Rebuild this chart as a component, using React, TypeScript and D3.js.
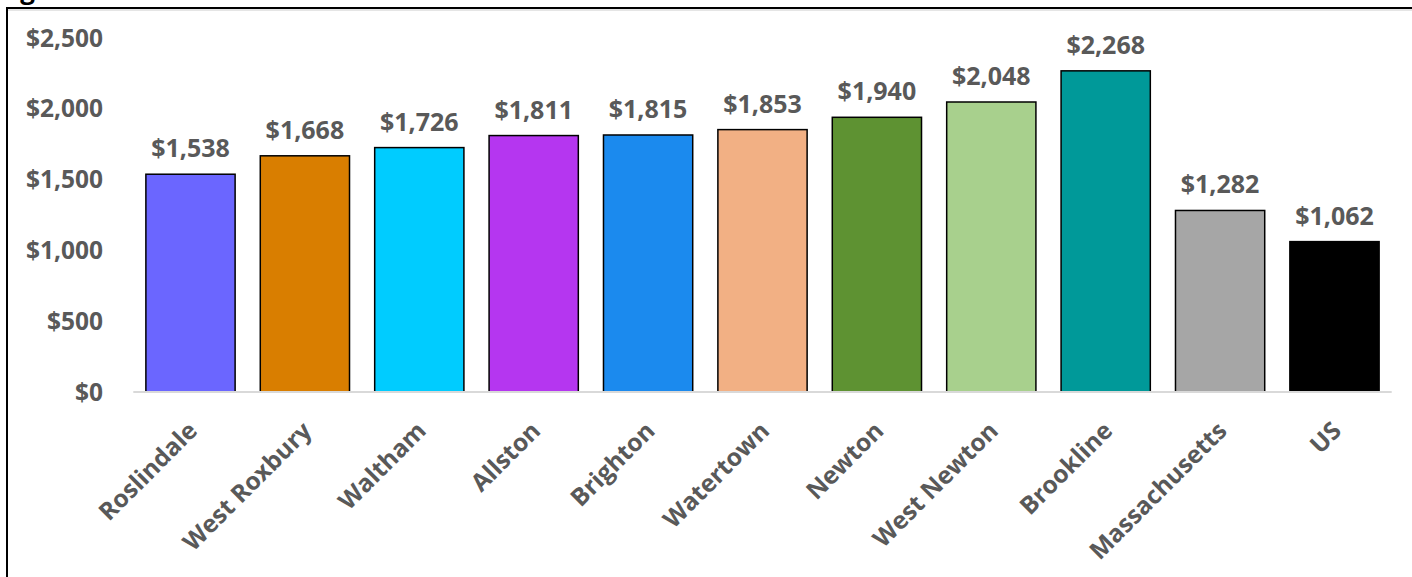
import React from "react";
import * as d3 from "d3";

const categories = ["Roslindale", "West Roxbury", "Waltham", "Allston", "Brighton", "Watertown", "Newton", "West Newton", "Brookline", "Massachusetts", "US"];
const values = [1538, 1668, 1726, 1811, 1815, 1853, 1940, 2048, 2268, 1282, 1062];
const colors = ["#6B66FF", "#D97E00", "#00CCFF", "#B536F0", "#1B8AEE", "#F2B084", "#5E9232", "#A8D08D", "#009999", "#A6A6A6", "#000000"];
const yTicks = [0, 500, 1000, 1500, 2000, 2500];

const W = 1412;
const H = 577;
const FONT = "'Open Sans', 'Liberation Sans', sans-serif";
const GRAY = "#595959";

export default function App() {
  const x = d3.scaleBand<string>().domain(categories).range([133.3, 1391.7]).paddingInner(0.22).paddingOuter(0.11);
  const y = d3.scaleLinear().domain([0, 2500]).range([392, 38]);
  const fmt = (v: number) => "$" + d3.format(",")(v);

  return (
    <svg width={W} height={H} style={{ position: "absolute", left: 0, top: 0, background: "#fff" }} fontFamily={FONT}>
      <text x={-2} y={-1} fontSize={26} fontWeight={700} fill="#000">Figure</text>
      <rect x={7} y={8} width={W + 10} height={H + 10} fill="none" stroke="#000" strokeWidth={2} />
      <line x1={8} x2={W} y1={10} y2={10} stroke="#ccc" strokeWidth={1} />
      {yTicks.map((t) => (
        <text key={t} x={103} y={y(t)} dy="0.35em" textAnchor="end" fontSize={24.5} fontWeight={700} fill={GRAY}>
          {fmt(t)}
        </text>
      ))}
      {categories.map((c, i) => (
        <g key={c}>
          <rect x={x(c)!} y={y(values[i])} width={x.bandwidth()} height={y(0) - y(values[i])} fill={colors[i]} stroke="#000" strokeWidth={1.5} />
          <text x={x(c)! + x.bandwidth() / 2} y={y(values[i]) - 17} textAnchor="middle" fontSize={25} fontWeight={700} fill={GRAY}>
            {fmt(values[i])}
          </text>
          <text
            transform={`translate(${x(c)! + x.bandwidth() / 2 - 4},${420}) rotate(-45)`}
            textAnchor="end"
            dy="0.71em"
            fontSize={24.5}
            fontWeight={700}
            fill={GRAY}
          >
            {c}
          </text>
        </g>
      ))}
      <line x1={133.3} x2={1391.7} y1={y(0)} y2={y(0)} stroke="#D9D9D9" strokeWidth={2} />
    </svg>
  );
}
